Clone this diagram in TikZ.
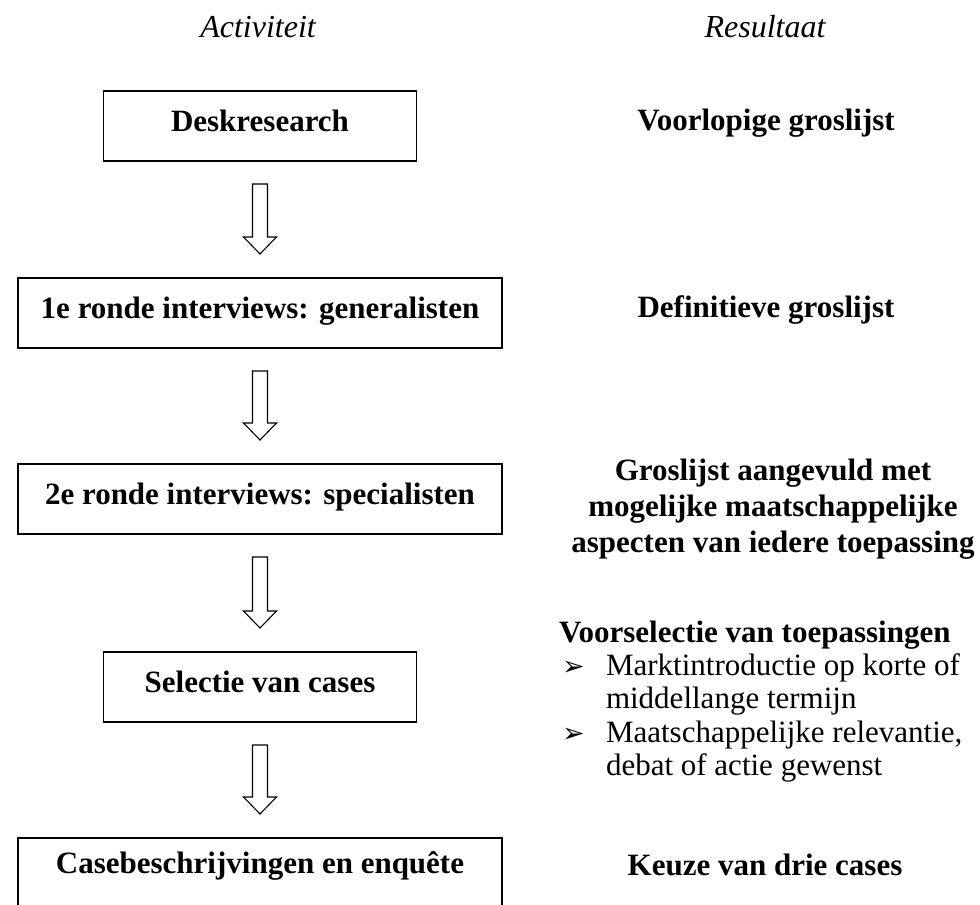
\documentclass[tikz,border=0pt]{standalone}
\usepackage{fontspec}
\setmainfont{Liberation Serif}
\newfontfamily\symfont{DejaVu Sans}
\usetikzlibrary{calc}
\newcommand{\fatarrow}[2]{%
  \draw[fat] ($(#1.south)+(-7.5,23)$) -- ($(#1.south)+(7.5,23)$)
    -- ($(#2.north)+(7.5,-41)$) -- ($(#2.north)+(16.5,-41)$)
    -- ($(#2.north)+(0,-24)$) -- ($(#2.north)+(-16.5,-41)$)
    -- ($(#2.north)+(-7.5,-41)$) -- cycle;}
\begin{document}
\begin{tikzpicture}[x=1pt,y=-1pt,
  every node/.style={inner sep=0pt, outer sep=0pt},
  stepbox/.style={draw, line width=1.3pt, minimum height=70pt,
    text height=18.6pt, text depth=7.75pt,
    font=\fontsize{31}{36}\selectfont\bfseries},
  narrowbox/.style={stepbox, minimum width=313pt},
  widebox/.style={stepbox, minimum width=484pt},
  head/.style={font=\fontsize{32}{38}\selectfont\itshape, anchor=base},
  result/.style={font=\fontsize{31}{36}\selectfont\bfseries, anchor=base},
  plain/.style={font=\fontsize{31}{36}\selectfont, anchor=base west},
  bullet/.style={font=\symfont\fontsize{27}{30}\selectfont, anchor=base west},
  fat/.style={draw, line width=1.1pt, fill=white, line join=miter}]
\path[use as bounding box] (0,0) rectangle (980,905);
\clip (0,0) rectangle (980,905);

% headers
\node[head] (h1) at (258,37) {Activiteit};
\node[head] (h2) at (765,37) {Resultaat};

% activity boxes
\node[narrowbox] (b1) at (260,126) {Deskresearch};
\node[widebox]   (b2) at (260,313) {1e ronde interviews: generalisten};
\node[widebox]   (b3) at (260,499) {2e ronde interviews: specialisten};
\node[narrowbox] (b4) at (260,687) {Selectie van cases};
\node[widebox]   (b5) at (260,873) {\raisebox{5pt}{Casebeschrijvingen en enquête}};

% block arrows
\fatarrow{b1}{b2}
\fatarrow{b2}{b3}
\fatarrow{b3}{b4}
\fatarrow{b4}{b5}

% results
\node[result] (r1) at (766,130) {Voorlopige groslijst};
\node[result] (r2) at (766,317) {Definitieve groslijst};
\node[result] (r3a) at (773,480) {Groslijst aangevuld met};
\node[result] (r3b) at (773,516) {mogelijke maatschappelijke};
\node[result] (r3c) at (773,552) {aspecten van iedere toepassing};
\node[result, anchor=base west] (r4) at (559,642) {Voorselectie van toepassingen};
\node[bullet] (k1) at (562,675) {➢};
\node[plain] (r4a) at (606,675) {Marktintroductie op korte of};
\node[plain] (r4b) at (606,708) {middellange termijn};
\node[bullet] (k2) at (562,742) {➢};
\node[plain] (r4c) at (606,742) {Maatschappelijke relevantie,};
\node[plain] (r4d) at (606,775) {debat of actie gewenst};
\node[result] (r5) at (765,875) {Keuze van drie cases};
\end{tikzpicture}
\end{document}
